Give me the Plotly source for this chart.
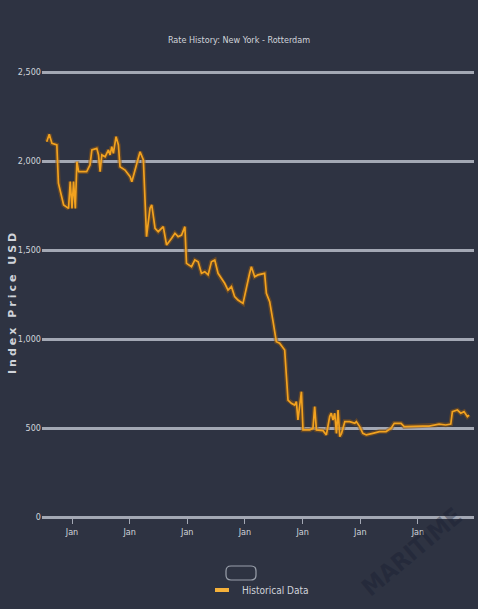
import plotly.graph_objects as go

# Weekly index readings, New York -> Rotterdam (USD)
dates = [
    "2016-07-25", "2016-08-10", "2016-08-27", "2016-09-27", "2016-10-07",
    "2016-11-09", "2016-12-10", "2016-12-21", "2017-01-01", "2017-01-11",
    "2017-01-22", "2017-02-01", "2017-02-12", "2017-04-04", "2017-04-25",
    "2017-05-07", "2017-06-07", "2017-06-18", "2017-06-28", "2017-07-09",
    "2017-07-30", "2017-08-20", "2017-08-30", "2017-09-10", "2017-09-20",
    "2017-10-07", "2017-10-22", "2017-11-01", "2017-12-03", "2018-01-04",
    "2018-01-15", "2018-02-15", "2018-03-08", "2018-03-29", "2018-04-18",
    "2018-05-10", "2018-05-21", "2018-06-11", "2018-07-01", "2018-08-02",
    "2018-08-23", "2018-09-24", "2018-10-15", "2018-11-04", "2018-11-26",
    "2018-12-17", "2018-12-27", "2019-01-28", "2019-02-18", "2019-03-11",
    "2019-04-01", "2019-04-22", "2019-05-13", "2019-06-03", "2019-06-24",
    "2019-07-15", "2019-08-05", "2019-08-26", "2019-09-16", "2019-10-08",
    "2019-10-28", "2019-11-18", "2019-12-20", "2020-01-10", "2020-01-31",
    "2020-02-11", "2020-03-03", "2020-03-24", "2020-05-05", "2020-05-16",
    "2020-06-06", "2020-06-27", "2020-07-18", "2020-08-08", "2020-09-09",
    "2020-09-30", "2020-10-21", "2020-11-11", "2020-11-22", "2020-12-02",
    "2020-12-24", "2021-01-03", "2021-02-14", "2021-03-07", "2021-03-18",
    "2021-03-29", "2021-05-10", "2021-05-31", "2021-06-21", "2021-07-01",
    "2021-07-12", "2021-07-23", "2021-08-03", "2021-08-13", "2021-08-24",
    "2021-09-04", "2021-09-25", "2021-10-26", "2021-11-27", "2021-12-07",
    "2021-12-28", "2022-01-17", "2022-02-08", "2022-03-21", "2022-05-02",
    "2022-06-13", "2022-07-14", "2022-08-04", "2022-09-16", "2022-10-06",
    "2022-11-28", "2023-01-30", "2023-03-13", "2023-04-24", "2023-05-15",
    "2023-06-26", "2023-07-28", "2023-08-07", "2023-09-08", "2023-09-29",
    "2023-10-20", "2023-11-10", "2023-11-21",
]
prices = [
    2108, 2150, 2099, 2090, 1875,
    1753, 1734, 1884, 1734, 1884,
    1734, 1996, 1940, 1940, 1978,
    2062, 2071, 2034, 1940, 2034,
    2024, 2062, 2034, 2081, 2043,
    2137, 2090, 1968, 1949, 1912,
    1884, 1978, 2052, 2006, 1575,
    1734, 1753, 1622, 1603, 1631,
    1528, 1566, 1594, 1575, 1584,
    1631, 1425, 1406, 1444, 1434,
    1369, 1378, 1360, 1434, 1444,
    1369, 1341, 1313, 1275, 1294,
    1238, 1219, 1200, 1294, 1369,
    1406, 1350, 1360, 1369, 1257,
    1210, 1100, 985, 976, 938,
    657, 639, 629, 648, 545,
    704, 489, 489, 498, 620,
    489, 485, 461, 564, 583,
    545, 583, 470, 601, 451,
    470, 536, 536, 526, 536,
    508, 470, 461, 470, 480,
    480, 498, 526, 526, 508,
    511, 511, 511, 517, 522,
    517, 522, 592, 601, 583,
    592, 564, 573,
]

series_name = "Historical Data"
chart_title = "Rate History: New York - Rotterdam"
y_title = "Index Price USD"
y_ticks = [0, 500, 1000, 1500, 2000, 2500]

BG = "#2e3342"
GRID = "#a3a8b4"
TEXT = "#d0d3da"
LINE = "#f2a21f"
NARROW = "DejaVu Sans Condensed, Liberation Sans Narrow, sans-serif"

W, H = 478, 609
ML, MR, MT, MB = 42, 4, 68, 92
PW, PH = W - ML - MR, H - MT - MB
# 500 value units span 89 px
Y_MAX = 2500 * PH / 445


def px_to_paper(x, y):
    return (x - ML) / PW, (H - MB - y) / PH


fig = go.Figure()

# soft halo under the line
fig.add_trace(go.Scatter(
    x=dates, y=prices, mode="lines", showlegend=False, hoverinfo="skip",
    legendgroup="hist", line=dict(color="rgba(140,85,20,0.55)", width=4.5),
))
fig.add_trace(go.Scatter(
    x=dates, y=prices, mode="lines", name=series_name, showlegend=False,
    legendgroup="hist", line=dict(color=LINE, width=1.7),
))
# compact legend key (short thick bar)
fig.add_trace(go.Scatter(
    x=[None], y=[None], mode="markers", name=series_name, legendgroup="hist",
    marker=dict(symbol="line-ew", size=10,
                line=dict(color="#f5b13a", width=4)),
))

# rounded toggle outline above the legend
x0, y0 = px_to_paper(226, 566)
x1, y1 = px_to_paper(256, 580)
rx = 5 / PW
ry = 5 / PH
path = (
    f"M {x0 + rx},{y0} L {x1 - rx},{y0} Q {x1},{y0} {x1},{y0 - ry} "
    f"L {x1},{y1 + ry} Q {x1},{y1} {x1 - rx},{y1} "
    f"L {x0 + rx},{y1} Q {x0},{y1} {x0},{y1 + ry} "
    f"L {x0},{y0 - ry} Q {x0},{y0} {x0 + rx},{y0} Z"
)
fig.add_shape(type="path", xref="paper", yref="paper", path=path,
              line=dict(color="#9aa0ab", width=1.2), layer="above")

# faint brand watermark in the lower right corner
wx, wy = px_to_paper(412, 552)
fig.add_annotation(
    text="<b>MARITIME</b>", xref="paper", yref="paper", x=wx, y=wy,
    xanchor="center", yanchor="middle",
    showarrow=False, textangle=-40,
    font=dict(family="DejaVu Sans Condensed, DejaVu Sans, sans-serif", size=24,
              color="rgba(24,29,48,0.40)"),
)

# vertical axis title
tx, ty = px_to_paper(12, 302)
fig.add_annotation(
    text=f'<span style="letter-spacing:3px">{y_title}</span>',
    xref="paper", yref="paper", x=tx, y=ty,
    xanchor="center", yanchor="middle", showarrow=False, textangle=-90,
    font=dict(family="DejaVu Sans, sans-serif", size=11, color=TEXT,
              weight="bold"),
)

fig.update_layout(
    width=W, height=H,
    paper_bgcolor=BG, plot_bgcolor=BG,
    margin=dict(l=ML, r=MR, t=MT, b=MB, autoexpand=False),
    title=dict(text=chart_title, x=0.5, xanchor="center",
               y=1 - 40 / H, yanchor="middle", yref="container",
               font=dict(family=NARROW, size=9, color=TEXT)),
    showlegend=True,
    legend=dict(orientation="h", x=0.5, xanchor="center",
                y=px_to_paper(0, 590)[1], yanchor="middle",
                font=dict(family=NARROW, size=10, color=TEXT),
                bgcolor="rgba(0,0,0,0)", itemwidth=30),
    xaxis=dict(
        type="date", automargin=False,
        range=["2016-06-25", "2023-12-22"],
        tick0="2017-01-01", dtick="M12", tickformat="%b",
        showgrid=False, zeroline=False, showline=False,
        ticks="outside", ticklen=6, tickcolor=GRID, tickwidth=1,
        tickfont=dict(family=NARROW, size=9, color=TEXT),
    ),
    yaxis=dict(
        range=[0, Y_MAX], tickvals=y_ticks, tickformat=",", automargin=False,
        showgrid=True, gridcolor=GRID, gridwidth=2.5,
        zeroline=True, zerolinecolor=GRID, zerolinewidth=3,
        showline=False, ticks="",
        tickfont=dict(family=NARROW, size=9, color=TEXT),
    ),
)

fig.write_html("out.html")
